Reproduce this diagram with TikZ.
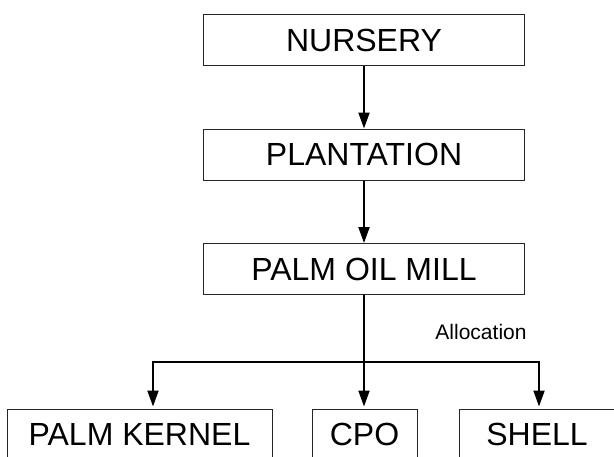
\documentclass[tikz,border=0pt]{standalone}
\usepackage{fontspec}
\setmainfont{Liberation Sans}
\usetikzlibrary{arrows.meta, positioning}
\tikzstyle{stage} = [rectangle, draw=black!85, line width=0.5pt, text centered, minimum width=160.5pt, minimum height=25.5pt, font=\fontsize{16}{19}\selectfont]
\tikzstyle{product} = [rectangle, draw=black!85, line width=0.5pt, text centered, minimum height=25.5pt, font=\fontsize{16}{19}\selectfont]
\tikzstyle{note} = [font=\fontsize{10.5}{12}\selectfont]
\tikzstyle{arrow} = [line width=1pt,-{Triangle[length=8pt,width=5.5pt]}]

\begin{document}
\begin{tikzpicture}[x=0.5pt,y=-0.5pt,node distance=57.25pt]
        \useasboundingbox (0,0) rectangle (614,456);
        \clip (0,0) rectangle (614,456);
        \node[stage] (nursery) at (364,40) {NURSERY};
        \node[stage, below of=nursery] (plantation) {PLANTATION};
        \node[stage, below of=plantation] (mill) {PALM OIL MILL};
        \node[product, minimum width=132.5pt] (kernel) at (139.5,434.5) {PALM KERNEL};
        \node[product, minimum width=52.5pt] (cpo) at (364.5,434.5) {CPO};
        \node[product, minimum width=78pt] (shell) at (537,434.5) {SHELL};
        \coordinate[below=33.5pt of mill.south] (split);
        \node[note] (alloc) at (481,332) {Allocation};
        \draw[arrow] (nursery) -- (plantation);
        \draw[arrow] (plantation) -- (mill);
        \draw[arrow, shorten >=1pt] (mill.south) -- (mill.south |- cpo.north);
        \draw[arrow, shorten >=1pt] (split) -| ([xshift=6.75pt]kernel.north);
        \draw[arrow, shorten >=1pt] (split) -| ([xshift=1pt]shell.north);
    \end{tikzpicture}
\end{document}
